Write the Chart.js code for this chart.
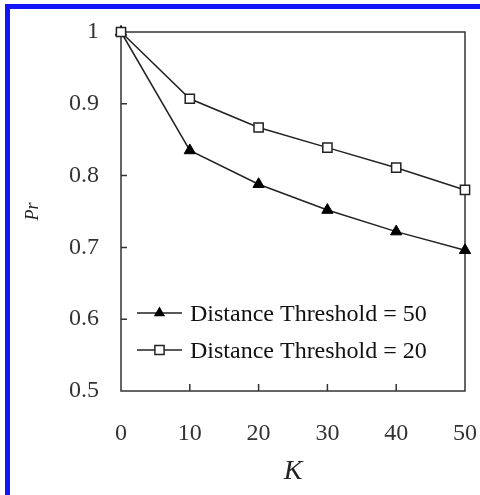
<!DOCTYPE html>
<html>
<head>
<meta charset="utf-8">
<script src="https://cdn.jsdelivr.net/npm/chart.js@4.4.0/dist/chart.umd.min.js"></script>
<style>
  html, body { margin: 0; padding: 0; background: #fff; }
  #wrap { position: relative; width: 480px; height: 495px; overflow: hidden; }
  #frame { position: absolute; left: 5px; top: 4px; width: 480px; height: 500px;
           border-left: 5px solid rgb(20,20,250); border-top: 5px solid rgb(20,20,250); }
  #chart { position: absolute; left: 0; top: 0; }
</style>
</head>
<body>
<div id="wrap">
  <div id="frame"></div>
  <canvas id="chart" width="480" height="495"></canvas>
</div>
<script>
var kValues = [0, 10, 20, 30, 40, 50];
var threshold50 = [1, 0.835, 0.788, 0.752, 0.722, 0.696];
var threshold20 = [1, 0.907, 0.867, 0.839, 0.811, 0.780];
var seriesLabels = ['Distance Threshold = 50', 'Distance Threshold = 20'];
var yTicks = [0.5, 0.6, 0.7, 0.8, 0.9, 1];
var xTicks = [0, 10, 20, 30, 40, 50];

var serif = '"Liberation Serif", "Times New Roman", serif';
var ink = '#222';

function toPoints(ys) {
  return ys.map(function (y, i) { return { x: kValues[i], y: y }; });
}

// box around the plot, inward tick marks and the legend inside the plot
var framePlugin = {
  id: 'frame',
  beforeDatasetsDraw: function (chart) {
    var ctx = chart.ctx;
    var a = chart.chartArea;
    var xs = chart.scales.x, ys = chart.scales.y;
    ctx.save();
    ctx.strokeStyle = '#333';
    ctx.lineWidth = 1.5;
    ctx.strokeRect(a.left, a.top, a.right - a.left, a.bottom - a.top);
    ctx.beginPath();
    yTicks.slice(1, -1).forEach(function (v) {
      var py = ys.getPixelForValue(v);
      ctx.moveTo(a.left, py);
      ctx.lineTo(a.left + 6, py);
    });
    xTicks.slice(1, -1).forEach(function (v) {
      var px = xs.getPixelForValue(v);
      ctx.moveTo(px, a.bottom);
      ctx.lineTo(px, a.bottom - 7);
    });
    ctx.stroke();

    // legend
    var rows = [a.bottom - 78, a.bottom - 41];
    chart.data.datasets.forEach(function (ds, i) {
      var y = rows[i];
      var x0 = a.left + 16, x1 = a.left + 61, xm = (x0 + x1) / 2;
      ctx.strokeStyle = ink;
      ctx.lineWidth = 1.5;
      ctx.beginPath();
      ctx.moveTo(x0, y);
      ctx.lineTo(x1, y);
      ctx.stroke();
      ctx.beginPath();
      if (ds.pointStyle === 'triangle') {
        var r = ds.pointRadius;
        ctx.moveTo(xm, y - r);
        ctx.lineTo(xm + r * 0.866, y + r / 2);
        ctx.lineTo(xm - r * 0.866, y + r / 2);
        ctx.closePath();
        ctx.fillStyle = '#000';
        ctx.fill();
      } else {
        var s = ds.pointRadius * Math.SQRT1_2;
        ctx.rect(xm - s, y - s, 2 * s, 2 * s);
        ctx.fillStyle = '#fff';
        ctx.fill();
        ctx.stroke();
      }
      ctx.fillStyle = '#111';
      ctx.font = '24px ' + serif;
      ctx.textBaseline = 'middle';
      ctx.textAlign = 'left';
      ctx.fillText(ds.label, x1 + 8, y + 2);
    });
    ctx.restore();
  }
};

var ctx = document.getElementById('chart').getContext('2d');

var chart = new Chart(ctx, {
  type: 'line',
  data: {
    datasets: [{
      label: seriesLabels[0],
      data: toPoints(threshold50),
      borderColor: ink,
      borderWidth: 1.5,
      pointStyle: 'triangle',
      pointRadius: 6.5,
      pointBackgroundColor: '#000',
      pointBorderColor: '#000',
      pointBorderWidth: 1,
      tension: 0,
      clip: false,
      order: 1
    }, {
      label: seriesLabels[1],
      data: toPoints(threshold20),
      borderColor: ink,
      borderWidth: 1.5,
      pointStyle: 'rect',
      pointRadius: 6.5,
      pointBackgroundColor: '#fff',
      pointBorderColor: '#222',
      pointBorderWidth: 1.5,
      tension: 0,
      clip: false,
      order: 0
    }]
  },
  options: {
    responsive: false,
    animation: false,
    events: [],
    layout: { padding: { left: 0, top: 32, right: 15, bottom: 0 } },
    plugins: {
      legend: { display: false },
      tooltip: { enabled: false }
    },
    scales: {
      x: {
        type: 'linear',
        min: 0,
        max: 50,
        afterFit: function (s) { s.height = 104; s.paddingLeft = 0; s.paddingRight = 0; },
        afterBuildTicks: function (s) { s.ticks = xTicks.map(function (v) { return { value: v }; }); },
        grid: { display: false, drawTicks: false },
        border: { display: false },
        ticks: { padding: 28, color: '#333', font: { family: serif, size: 24 } },
        title: {
          display: true,
          text: 'K',
          color: '#222',
          padding: { top: 0, bottom: 7 },
          font: { family: serif, size: 28, style: 'italic' }
        }
      },
      y: {
        min: 0.5,
        max: 1,
        afterFit: function (s) { s.width = 121; s.paddingTop = 0; s.paddingBottom = 0; },
        afterBuildTicks: function (s) { s.ticks = yTicks.map(function (v) { return { value: v }; }); },
        grid: { display: false, drawTicks: false },
        border: { display: false },
        ticks: {
          padding: 22,
          color: '#333',
          font: { family: serif, size: 24 },
          callback: function (v) { return String(+v.toFixed(1)); }
        },
        title: {
          display: true,
          text: 'Pr',
          color: '#222',
          padding: { top: 22, bottom: 0 },
          font: { family: serif, size: 18, style: 'italic' }
        }
      }
    }
  },
  plugins: [framePlugin]
});
</script>
</body>
</html>
